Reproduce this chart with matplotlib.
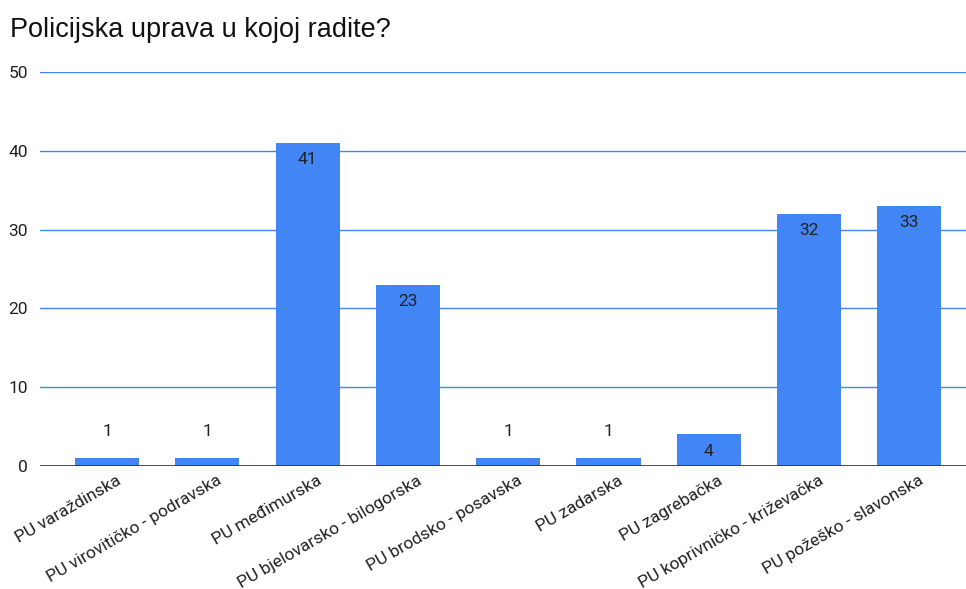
import matplotlib
matplotlib.use("Agg")
import matplotlib.pyplot as plt
import matplotlib.transforms as mtrans

categories = ["PU varaždinska", "PU virovitičko - podravska", "PU međimurska",
              "PU bjelovarsko - bilogorska", "PU brodsko - posavska", "PU zadarska",
              "PU zagrebačka", "PU koprivničko - križevačka", "PU požeško - slavonska"]
values = [1, 1, 41, 23, 1, 1, 4, 32, 33]
yticks = [0, 10, 20, 30, 40, 50]
title = "Policijska uprava u kojoj radite?"

W, H = 966, 589
fig = plt.figure(figsize=(W / 100, H / 100), dpi=100)
ax_left, ax_right, ax_bottom, ax_top = 40, 966, 466, 72
ax = fig.add_axes([ax_left / W, 1 - ax_bottom / H, (ax_right - ax_left) / W, (ax_bottom - ax_top) / H])

blue = "#4285F4"
x = list(range(len(categories)))
ax.bar(x, values, width=0.64, color=blue, zorder=3)

sp = 100.3
ax.set_xlim((ax_left - 107) / sp, (ax_right - 107) / sp)
ax.set_ylim(0, 50)

for s in ax.spines.values():
    s.set_visible(False)
ax.set_yticks(yticks)
ax.yaxis.grid(True, color=blue, linewidth=1, zorder=0)
ax.axhline(0, color="#333333", linewidth=1.2, zorder=4)
ax.tick_params(axis="y", length=0, pad=8.5, labelsize=12.5, labelcolor="#222222")
ax.tick_params(axis="x", length=0, pad=5, labelsize=12.5, labelcolor="#222222")
for lab in ax.get_yticklabels():
    lab.set_fontfamily("Roboto")

ax.set_xticks(x)
ax.set_xticklabels(categories, rotation=30, ha="right", rotation_mode="anchor", fontfamily="Roboto")
off = mtrans.ScaledTranslation(9 / 100, 0, fig.dpi_scale_trans)
for lab in ax.get_xticklabels():
    lab.set_transform(lab.get_transform() + off)

for xi, v in zip(x, values):
    dy = -12 if v >= 4 else 19.5
    ax.annotate(str(v), (xi, v), xytext=(0, dy), textcoords="offset points",
                ha="center", va="center", fontsize=12.5, color="#222222",
                fontfamily="Roboto", zorder=5)

fig.text(10 / W, 1 - 30 / H, title, fontsize=19.5, color="#111111",
         fontfamily="Liberation Sans", ha="left", va="center")

fig.savefig("out.png", dpi=100)
